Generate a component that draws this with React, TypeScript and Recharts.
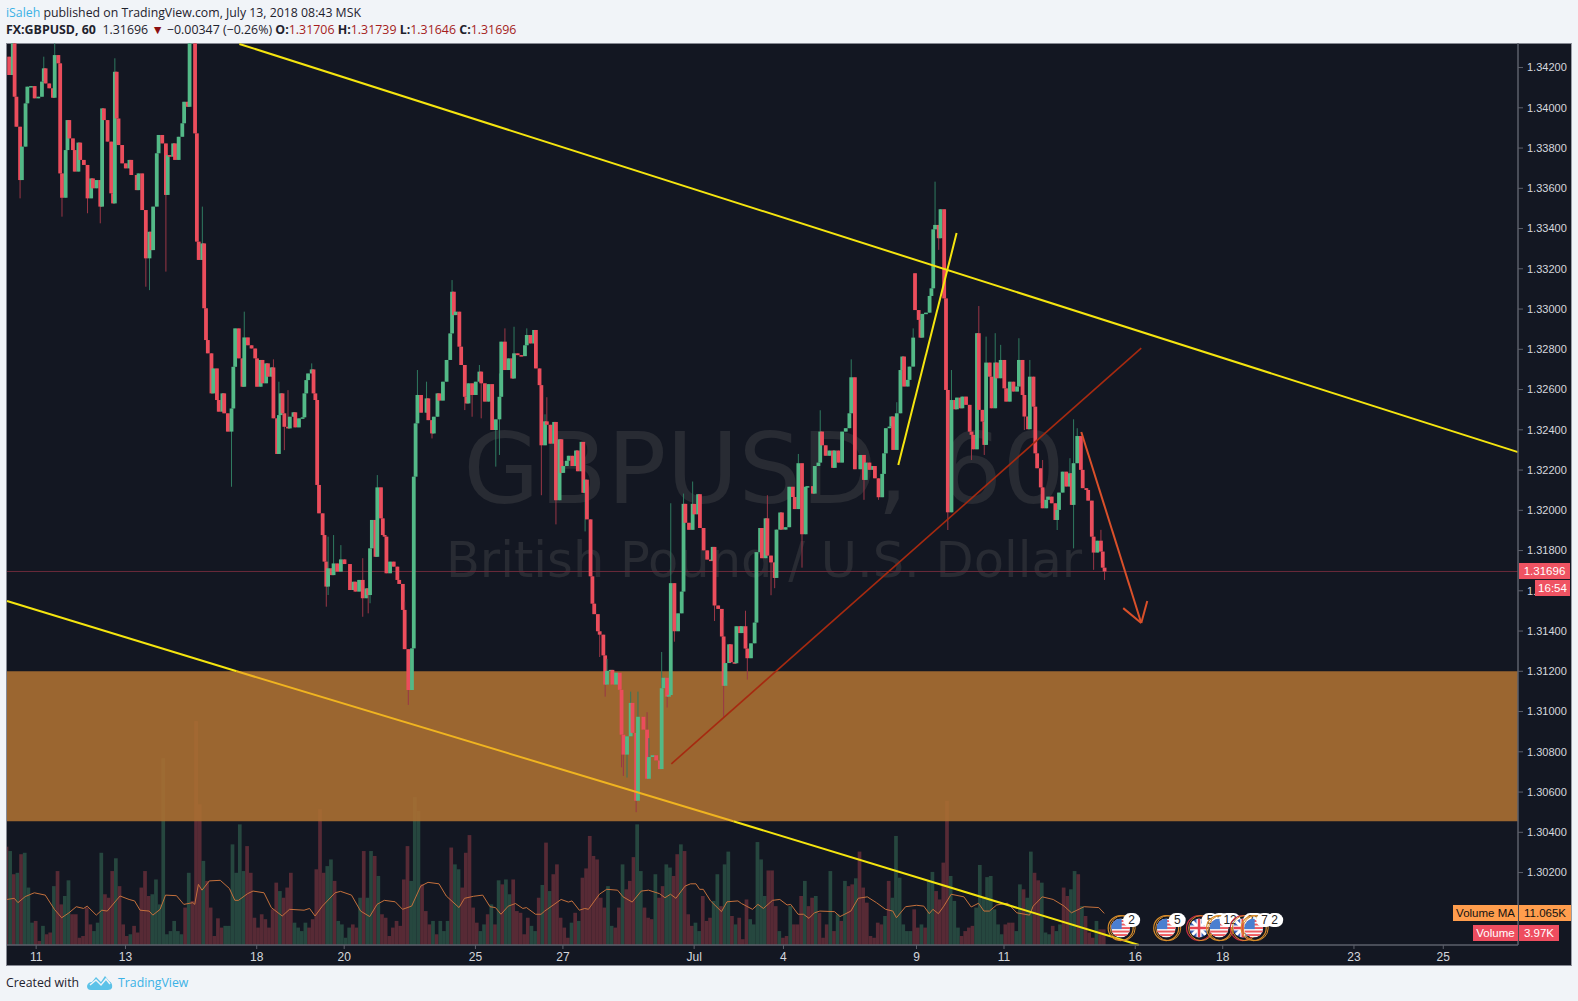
import React from "react";
import { ComposedChart, XAxis, YAxis, Bar, Line, ReferenceArea, ReferenceLine, ReferenceDot } from "recharts";

// ---- price candles: hour-bar number and close (the open is the previous close unless listed)
const candleBars = [
1,3,4,5,7,8,10,11,13,15,17,19,20,21,23,25,26,28,29,30,32,33,34,36,37,39,40,42,44,46,47,49,51,52,53,55,57,58,59,60,61,63,65,67,68,71,72,74,76,78,79,80,82,83,85,87,88,89,91,92,94,96,97,99,100,103,104,105,107,108,109,
110,112,113,115,116,118,119,121,123,124,125,127,129,130,132,134,136,137,139,140,142,143,145,146,148,149,150,151,152,154,155,157,158,160,162,163,164,165,167,168,169,170,171,173,174,175,176,178,179,181,183,185,188,190,191,193,195,197,198,199,200,202,203,205,206,207,208,210,212,214,215,217,218,220,222,223,224,225,227,230,231,233,234,236,237,239,241,243,244,245,246,248,249,251,252,253,255,257,259,260,262,264,266,268,270,271,273,275,277,278,280,282,284,285,287,289,290,292,
293,295,296,298,300,301,303,304,305,307,308,310,312,313,315,316,317,318,320,321,322,324,325,327,328,329,331,332,334,336,337,338,340,342,343,345,346,349,351,352,354,356,358,359,360,362,363,364,366,368,370,371,372,374,376,377,379,380,382,384,386,387,388,390,392,393,394,396,397,399,400,402,403,405,406,408,410,411,413,414,416,417,419,421,422,424,425,427,429,431,432,434,436,438,439,442,443,445,446,447,449,451,453,454,456,
458,460,462,463,465,468,470,471,473,475,476,478,480,481,482,484,485,486,488,490,491,492,494,495,497,498,500,501,502,504,506,507,508,509,511,512,514,515,516,518,520,521,523,524,526,528,529,530,532,533,535,536,537,539,540,542,543,545,547,548,550,552,554,555,557,558,560,561,563,564,565,567,568,570,571,573,575,576,577,579,581,583,584,585,587,589,590,592,593,595,596,598,600,601,602,
];
const candleCloses = [
1.34163,1.3432,1.34055,1.33906,1.33641,1.33807,1.34022,1.34105,1.34108,1.34047,1.34055,1.3413,1.34196,1.34121,1.34097,1.3405,1.34262,1.34221,1.33674,1.33553,1.3379,1.33939,1.33848,1.3379,1.33683,1.33827,1.33741,1.33716,1.3355,1.33649,1.336,1.33641,1.33509,1.33997,1.33939,1.33832,1.33575,1.33525,1.34179,1.33947,1.33815,1.33724,1.33699,1.33741,1.33666,1.33591,1.33674,1.33492,1.33252,1.33384,1.33293,1.33509,1.33774,1.33865,1.33823,1.33567,1.33765,1.33757,1.33823,1.33741,1.33856,1.33923,1.3403,1.34005,1.3432,1.33873,1.33335,1.33244,1.33326,1.33004,1.32846,
1.3278,1.32581,1.32705,1.32548,1.3249,1.32581,1.32482,1.32391,1.32506,1.32713,1.32904,1.32755,1.32614,1.32859,1.3282,1.32804,1.32755,1.32614,1.32747,1.32631,1.3273,1.32664,1.3271,1.32457,1.3228,1.32473,1.32581,1.32482,1.32415,1.32407,1.32465,1.32487,1.32412,1.32457,1.32462,1.32581,1.32647,1.3268,1.327,1.32581,1.32548,1.32126,1.31985,1.31877,1.31745,1.31621,1.31712,1.31678,1.31736,1.31695,1.31756,1.31733,1.31604,1.31645,1.31596,1.31654,1.31563,1.31612,1.31579,1.31811,1.31952,1.31769,1.32114,1.3196,1.31877,1.31869,1.31687,1.31745,1.3172,1.31654,1.31634,1.31505,1.3131,1.31107,1.31314,1.32167,1.32432,1.32573,1.32485,1.32556,1.32448,1.32382,1.32465,1.32581,1.32545,1.32639,1.32747,1.32879,1.33086,1.3297,1.32987,1.32813,1.32722,1.32564,1.32531,1.32631,1.32573,1.32639,1.32689,1.32631,1.3254,1.32627,1.32399,1.32452,1.32564,1.32838,1.32697,1.32755,1.32655,1.3278,1.32771,1.32766,1.3282,1.32871,1.32829,1.32896,1.32705,1.32622,
1.32323,1.32442,1.32425,1.32331,1.32439,1.3205,1.32353,1.32186,1.3222,1.32246,1.32271,1.3222,1.32297,1.32194,1.3234,1.32087,1.32152,1.31955,1.31672,1.31536,1.31484,1.31399,1.31382,1.31279,1.31134,1.31202,1.31207,1.31134,1.31193,1.31108,1.30885,1.30786,1.30877,1.31043,1.30894,1.30557,1.30974,1.3091,1.30666,1.30774,1.30783,1.30757,1.30714,1.31116,1.31168,1.31074,1.31082,1.31638,1.31399,1.31488,1.31596,1.32032,1.31938,1.31903,1.32032,1.3198,1.3208,1.31912,1.31801,1.31755,1.3175,1.31818,1.31527,1.3151,1.31373,1.31128,1.31241,1.31334,1.31245,1.3124,1.31424,1.3139,1.31424,1.31313,1.31265,1.31339,1.31442,1.31792,1.31912,1.31762,1.3196,1.31775,1.31741,1.31664,1.31904,1.31989,1.31904,1.31916,1.32117,1.32066,1.32006,1.32234,1.31881,1.32117,1.3212,1.32083,1.3222,1.32237,1.32391,1.32323,1.32271,1.32297,1.32211,1.32297,1.32237,
1.32391,1.32408,1.32482,1.32661,1.32204,1.32275,1.32151,1.32237,1.32201,1.3222,1.32159,1.32065,1.32181,1.32283,1.32408,1.32416,1.32466,1.323,1.32482,1.32697,1.32764,1.32615,1.32648,1.32714,1.32858,1.32995,1.32946,1.32858,1.32976,1.32982,1.33065,1.33103,1.33396,1.33418,1.33352,1.33496,1.33053,1.32598,1.3199,1.32548,1.32502,1.3256,1.32507,1.32565,1.32524,1.32391,1.32375,1.32303,1.3288,1.32499,1.32441,1.32325,1.32734,1.32664,1.32507,1.32734,1.32656,1.32747,1.32606,1.3254,1.32639,1.3259,1.32615,1.32747,1.32573,1.32466,1.32403,1.32664,1.32515,1.32283,1.32209,1.32114,1.3201,1.32052,1.32068,1.32035,1.31952,1.32002,1.32088,1.32192,1.32118,1.32184,1.32027,1.32234,1.32369,1.32201,1.3211,1.32101,1.32048,1.31869,1.3179,1.31849,1.31795,1.31715,1.31696,
];
const listedOpenBars = [1, 498];
const listedOpens = [1.34254, 1.33178];

// ---- notable wicks (0 = no wick on that side)
const wickBars = [7,20,26,30,44,51,59,76,78,87,107,123,130,146,149,152,154,167,175,176,179,183,195,198,199,203,218,220,225,230,233,244,251,255,259,260,268,270,273,278,285,293,295,296,301,317,325,328,329,337,338,340,342,345,346,351,352,359,362,364,366,371,376,388,393,405,406,417,419,421,434,436,446,463,470,478,488,497,509,511,516,518,529,533,536,537,542,545,555,558,561,568,576,583,585,587,596,600,602];
const wickHighs = [0,1.34254,1.3432,0,0,0,1.34246,0,0,0,1.33509,0,1.32987,1.3275,1.32639,0,1.32597,1.3273,0,1.31869,1.31877,1.31827,1.31762,0,0,1.32175,1.31546,0,1.32697,1.32639,0,1.33144,0,0,1.32722,0,0,1.3268,1.32904,1.32912,1.32904,0,1.32477,1.32562,0,0,0,0,1.31262,0,0,0,1.31099,0,1.31099,1.30997,1.30868,1.31296,0,1.32035,0,1.32083,1.32143,0,1.31467,1.31501,0,1.32075,0,0,1.3228,0,1.32497,1.3275,0,0,1.32537,1.32904,1.33633,0,0,1.32697,0,1.33015,0,1.32863,1.3288,1.32822,1.32855,0,1.32747,1.3225,0,1.32259,1.32452,1.32408,0,1.31903,0];
const wickLows = [1.3355,0,0,1.33459,1.33476,1.33426,0,1.33111,1.33094,1.33186,0,1.32117,0,0,0,1.32299,0,0,1.31521,1.31579,0,0,1.31471,1.31488,1.31538,0,0,1.31033,0,0,1.32357,0,1.32498,1.32465,0,1.32457,1.32217,1.32275,0,0,0,1.32075,0,0,1.3193,1.31895,1.31271,1.31074,0,1.30723,1.3068,1.30672,0,1.305,0,0,0,0,1.3102,0,1.31347,0,0,1.3145,1.30971,0,1.31159,0,1.31578,1.31613,0,1.31715,0,0,1.32052,1.32052,0,0,0,1.33294,1.31902,0,1.3225,0,1.32275,0,0,0,0,1.32399,0,0,1.31902,0,1.31811,0,1.31704,0,1.31654];

// ---- volume in thousands, one value every two hours: positive = up bar, negative = down bar
const volumeFirst = [-33.9,32.4,-24.4,24.9,-31.3,31.8,19.8,7.7,-8.3,-1.4,6.6,-3.7,-4.3,20.3,-25.5,-14,16.9,22.3,-10.6,-10.6,-2.5,-3.1,-12.9,-7.1,4.8,7.7,31.8,-17.5,-16.3,-25.5,29.9,-20.3,-7.1,-3.1,3.7,-6.6,-4.3,-19.8,-25.5,-16.9,17.5,22.6,14,64.4,3.7,4.8,8.3,4.8,3.7,-12.9,24.9,-15.2,-77.2,-48.5,29,-22.1,-12.9,-3.1,-9.2,-6,6.6,6.6,34.7,24.9,41.6,25.5,-34.1,-24.9,-9.4,-6,-10.6,-8.9,-6,-12.3,-21.5,18.6,-16.3,-19.8,-24.9,7.7,6,4.8,7.7,-6,-8.9,-26.1,-46.8,-24.9,27.2,29.5,-22.1,8.3,7.1,2.5,6,-7.1,-6,16.3,-32.4,16.3,32.4,-30.7,23.8,-10.6,-9.4,-3.1,-6,-8.3,-6.6,-22.6,-34.1,22.1,51,46.2,-20.9,-11.7,-7.1,8.3,-3.7,8.3,4.8,8.3];
const volumeMiddle = [-33.6,27.8,26.1,-19.8,-31.8,-37.9,-12.9,-7.7,4.8,7.1,-10.6,14,-7.1,22.3,-20.9,22.6,17.5,-22.6,-11.7,-11.1,-3.7,-9.4,6.6,4.8,-16.3,20.7,-35.3,18.6,-24.4,-27.8,-9.4,-6,-2.5,7.7,-11.1,8.3,-23.2,-26.4,-37.6,-30.7,-29.5,-16.3,-12.9,20.3,6.6,-6,-12.9,27.8,-19.2,-22.1,-30.3,41.6,25.5,-12.9,-9.4,-8.9,24.4,-16.3,-20.3,27.8,26.7,-23.8,-31.3,34.7,-32.4,-10.6,-6.6,7.7,4.8,-16.9,-8.3,-9.4,15.2,24.4,-13.4,27.8,32.2,-10,7.1,-9.4,-2,-15.7,8.9,7.1,35.5,29.5,16.9,-25.7,-25.7,-13.4,4.8];
const volumeLast = [-2.5,-3.1,13.4,-7.1,-7.1,-16.9,22.1,-13.4,-16.3,16.9,-11.1,-2.5,-7.1,25.5,-4.8,10.6,-8.3,22.1,-20.3,-20.9,23,-32.2,-19.8,-14.6,-3.1,-2.5,-7.7,-7.1,10,-22.1,16.3,37.6,23.2,7.1,4.8,4.8,-12.3,-6,7.1,-6,22.1,25.2,-18.6,-15.7,-28.4,-49.7,23.8,15.2,6,-3.1,-4.8,-6,-6.6,12.9,27.6,16.3,23.4,23.8,12.3,7.1,3.7,-7.1,-7.7,-7.7,4.8,20.9,-19.2,16.3,32.2,-24.9,-22.3,21.5,4.3,3.7,-6.6,4.8,7.1,-19.8,-16.9,19.2,25.5,-24.4,13.4,-10,-4.3,-2.5,8.3,-5.4,-5.4];

// ---- volume moving average
const maBars = [0,4,6,10,15,21,26,30,34,38,42,44,49,52,55,62,67,70,73,78,80,84,87,93,97,102,103,105,107,111,117,122,125,127,132,135,141,145,151,155,163,166,169,173,180,183,189,194,199,203,207,213,217,222,227,231,237,241,248,251,256,261,265,268,271,275,279,283,285,290,293,295,304,308,310,314,317,319,325,329,335,338,343,348,352,358,361,364,367,372,375,378,380,382,386,392,395,401,403,409,412,415,420,424,428,430,434,437,440,443,446,454,457,463,467,472,477,482,486,488,493,499,503,506,508,511,514,518,525,529,533,536,539,543,549,554,561,563,568,574,580,584,591,599,602];
const maValues = [15.7,16.1,14.6,16.7,18,17.2,12.3,9.4,11.1,13.2,12.6,13.4,10.3,12,11.7,16.9,15.7,15.2,12,11.7,10.3,12.3,17.2,17,14,14.6,14,20.9,18.9,22.1,22.3,19.5,15.4,15.4,17.7,18.6,18,12.9,10,12.3,12,12.6,10,13.4,18,18.5,17.2,11.7,9.8,14,15.4,14.9,12.3,13.4,20.3,21.6,21.1,16.9,12.9,16.1,16.8,17.2,13.2,12.9,10.6,13.4,14.3,12.6,12.9,10.6,10.6,11.7,15.7,14.8,15.2,12,12.6,12.3,17.5,19.2,18.9,16.6,14.8,18.6,18.9,17.7,16.3,17.5,16.1,20.3,21.1,21.1,19.2,19.2,15.2,11.5,14.9,15.2,14.3,12.3,14,12.6,15.4,15.7,13.8,14,10.6,10.6,9.2,11.1,11.7,11.5,9.8,11.7,16.1,16.6,14.6,12.3,11.7,9.4,13.2,13.7,13.4,10.8,12.3,10.8,13.4,17.5,16.6,13.1,14.4,11.7,11.7,13.8,14.4,11.1,10.3,13.4,16.6,15.7,13.4,11.1,13.2,12.9,10.9];

// ---- axes
const priceTicks = [1.302,1.304,1.306,1.308,1.31,1.312,1.314,1.316,1.318,1.32,1.322,1.324,1.326,1.328,1.33,1.332,1.334,1.336,1.338,1.34,1.342];
const timeTicks = [16,65,137,185,257,305,377,426,499,547,619,667,739,788];
const timeLabels = ["11","13","18","20","25","27","Jul","4","9","11","16","18","23","25"];
const lastPrice = 1.31696;
const zoneTop = 1.312;
const zoneBottom = 1.30455;

// ---- drawings: [bar, price, bar, price]
const yellowLines = [
  [127.5,1.34317,829,1.32289],
  [0,1.31549,126,1.312],
  [398.5,1.30455,621,1.2984],
  [489,1.32225,521,1.33378],
];
const amberLines = [[126,1.312,398.5,1.30455]];
const redLines = [[364.5,1.3074,622.3,1.32806]];
const arrowLines = [
  [589.4,1.32389,622.3,1.3144],
  [612.4,1.31514,622.3,1.3144],
  [625.6,1.31549,622.3,1.3144],
];

// ---- calendar events along the bottom
const eventBars = [611,636,654,665,678,684];
const eventPrice = 1.29924;
const eventKinds = ["us","us","uk","us","uk","us"];
const eventCounts = [["2"],["5"],["5","2"],["12"],["21"],["7","2"]];

const UP = "#53b987";
const DOWN = "#eb4d5c";

const wickByBar = new Map(wickBars.map((b, i) => [b, [wickHighs[i], wickLows[i]]]));
const openByBar = new Map(listedOpenBars.map((b, i) => [b, listedOpens[i]]));
const rowsByBar = new Map<number, any>();
const rowAt = (b: number) => {
  if (!rowsByBar.has(b)) rowsByBar.set(b, { bar: b });
  return rowsByBar.get(b);
};
candleBars.forEach((b, i) => {
  const close = candleCloses[i];
  const open = openByBar.has(b) ? openByBar.get(b)! : candleCloses[i - 1];
  const [wh, wl] = wickByBar.get(b) || [0, 0];
  const high = Math.max(open, close, wh || 0);
  const low = Math.min(open, close, wl || 9);
  Object.assign(rowAt(b), { open, close, range: [low, high] });
});
[[volumeFirst, 0], [volumeMiddle, 244], [volumeLast, 426]].forEach(([list, start]: any) => {
  list.forEach((v: number, i: number) => {
    const r = rowAt(start + i * 2);
    r.volume = Math.abs(v);
    r.volumeUp = v > 0;
  });
});
maBars.forEach((b, i) => { rowAt(b).ma = maValues[i]; });
const chartData = Array.from(rowsByBar.values()).sort((a, b) => a.bar - b.bar);

function CandleShape(props: any) {
  const { x, width, y, height, payload } = props;
  if (!payload || payload.range == null || !Number.isFinite(y)) return null;
  const cx = x + width / 2;
  const [low, high] = payload.range;
  const top = Math.min(y, y + height);
  const h = Math.abs(height);
  const perUnit = high > low ? h / (high - low) : 0;
  const bodyTop = top + (high - Math.max(payload.open, payload.close)) * perUnit;
  const bodyH = Math.max(1.5, Math.abs(payload.open - payload.close) * perUnit);
  const up = payload.close >= payload.open;
  return (
    <g>
      <line x1={cx} x2={cx} y1={top} y2={top + h} stroke={up ? "#2f7a60" : "#9a3646"} strokeWidth={1} />
      <rect x={cx - 1.9} y={bodyTop} width={3.8} height={bodyH} fill={up ? UP : DOWN} />
    </g>
  );
}

function VolumeShape(props: any) {
  const { x, width, y, height, payload } = props;
  if (!payload || payload.volume == null || !Number.isFinite(y)) return null;
  const cx = x + width / 2;
  return <rect x={cx - 1.85} y={y} width={3.7} height={height} fill={payload.volumeUp ? "#26473f" : "#572a35"} />;
}

function FlagShape(props: any) {
  const { cx, cy, kind, counts, id } = props;
  const r = 9.5;
  const stripes = [-8, -4.5, -1, 2.5, 6];
  return (
    <g>
      <circle cx={cx} cy={cy} r={r + 3} fill="none" stroke={kind === "uk" ? "#c92c41" : "#d98e2b"} strokeWidth={1.2} />
      <circle cx={cx + 2} cy={cy} r={r + 3} fill="none" stroke="#d98e2b" strokeWidth={1} />
      <clipPath id={id}><circle cx={cx} cy={cy} r={r} /></clipPath>
      <g clipPath={`url(#${id})`}>
        {kind === "us" ? (
          <>
            <rect x={cx - r} y={cy - r} width={r * 2} height={r * 2} fill="#f7f7f7" />
            {stripes.map((s) => <rect key={s} x={cx - r} y={cy + s} width={r * 2} height={1.9} fill="#ee5a5f" />)}
            <rect x={cx - r} y={cy - r} width={r + 1} height={r + 1} fill="#4a7fd0" />
          </>
        ) : (
          <>
            <rect x={cx - r} y={cy - r} width={r * 2} height={r * 2} fill="#3a62b5" />
            <line x1={cx - r} y1={cy - r} x2={cx + r} y2={cy + r} stroke="#fff" strokeWidth={3} />
            <line x1={cx - r} y1={cy + r} x2={cx + r} y2={cy - r} stroke="#fff" strokeWidth={3} />
            <line x1={cx - r} y1={cy} x2={cx + r} y2={cy} stroke="#fff" strokeWidth={5} />
            <line x1={cx} y1={cy - r} x2={cx} y2={cy + r} stroke="#fff" strokeWidth={5} />
            <line x1={cx - r} y1={cy} x2={cx + r} y2={cy} stroke="#e5404f" strokeWidth={2.5} />
            <line x1={cx} y1={cy - r} x2={cx} y2={cy + r} stroke="#e5404f" strokeWidth={2.5} />
          </>
        )}
      </g>
      {counts.map((t: string, i: number) => {
        const bx = cx + 11 + i * 10;
        const w = t.length > 1 ? 21 : 17;
        return (
          <g key={i}>
            <rect x={bx - w / 2} y={cy - 15} width={w} height={14} rx={7} fill="#fff" />
            <text x={bx} y={cy - 4} textAnchor="middle" fontSize={12} fontFamily="Liberation Sans" fill="#222">{t}</text>
          </g>
        );
      })}
    </g>
  );
}

const segment = (s: number[]) => [{ x: s[0], y: s[1] }, { x: s[2], y: s[3] }];
const SANS = '"Open Sans", "Noto Sans", sans-serif';
const box = (left: number, top: number, width: number, height: number, bg: string, color: string, text: string) => (
  <div style={{ position: "absolute", left, top, width, height, background: bg, color, font: '11.5px "Liberation Sans"', lineHeight: `${height}px`, textAlign: "center", whiteSpace: "nowrap" }}>{text}</div>
);

export default function App() {
  return (
    <div style={{ position: "absolute", left: 0, top: 0, width: 1578, height: 1001, background: "#f1f4f8", overflow: "hidden" }}>
      <div style={{ position: "absolute", left: 6, top: 4, font: `12.3px ${SANS}`, color: "#1e222d", whiteSpace: "nowrap" }}>
        <span style={{ color: "#3bb2e6" }}>iSaleh</span> published on TradingView.com, July 13, 2018 08:43 MSK
      </div>
      <div style={{ position: "absolute", left: 6, top: 21, font: `12.4px ${SANS}`, color: "#1e222d", whiteSpace: "nowrap" }}>
        <b>FX:GBPUSD, 60</b>&nbsp; 1.31696 <span style={{ color: "#8b0f12" }}>▼</span> −0.00347 (−0.26%) <b>O:</b><span style={{ color: "#a51c1c" }}>1.31706</span> <b>H:</b><span style={{ color: "#a51c1c" }}>1.31739</span> <b>L:</b><span style={{ color: "#a51c1c" }}>1.31646</span> <b>C:</b><span style={{ color: "#a51c1c" }}>1.31696</span>
      </div>

      <div style={{ position: "absolute", left: 6, top: 43, width: 1564, height: 921, background: "#131722", border: "1px solid #868993", borderRight: "1px solid #9a9da6", boxSizing: "content-box" }} />
      <div style={{ position: "absolute", left: 0, width: 1528, top: 414, textAlign: "center", font: '98.5px "DejaVu Sans"', color: "#282b33", lineHeight: "110px", whiteSpace: "nowrap" }}>GBPUSD, 60</div>
      <div style={{ position: "absolute", left: 0, width: 1528, top: 532, textAlign: "center", font: '49.5px "DejaVu Sans"', color: "#282b33", lineHeight: "56px", whiteSpace: "nowrap" }}>British Pound / U.S. Dollar</div>

      <div style={{ position: "absolute", left: 0, top: 0 }}>
        <ComposedChart width={1578} height={1001} data={chartData} margin={{ top: 43, left: 7, right: 8, bottom: 36 }}>
          <XAxis dataKey="bar" type="number" domain={[0, 829]} ticks={timeTicks} interval={0} height={20} allowDataOverflow
            tickFormatter={(v: number) => timeLabels[timeTicks.indexOf(v)]}
            tick={{ fill: "#d6d8de", fontSize: 12, fontFamily: "Liberation Sans" }} tickSize={4} tickMargin={3}
            axisLine={{ stroke: "#5d606b", strokeWidth: 1.5 }} tickLine={{ stroke: "#5d606b" }} />
          <YAxis yAxisId="price" orientation="right" width={52} domain={[1.2984, 1.34322]} allowDataOverflow ticks={priceTicks} interval={0}
            tickFormatter={(v: number) => v.toFixed(5)}
            tick={{ fill: "#d6d8de", fontSize: 11, fontFamily: "Liberation Sans", textAnchor: "start" }} tickSize={5} tickMargin={4}
            axisLine={{ stroke: "#5d606b", strokeWidth: 1.5 }} tickLine={{ stroke: "#5d606b" }} />
          <YAxis yAxisId="volume" hide domain={[0, 311]} allowDataOverflow />

          <Bar yAxisId="volume" dataKey="volume" shape={VolumeShape} barSize={3} isAnimationActive={false} zIndex={50} />
          <Line yAxisId="volume" dataKey="ma" stroke="#c4703c" strokeWidth={1} dot={false} connectNulls isAnimationActive={false} zIndex={60} />
          <ReferenceArea yAxisId="price" x1={0} x2={829} y1={zoneBottom} y2={zoneTop} fill="rgb(171,111,50)" fillOpacity={0.9} stroke="none" zIndex={80} />
          <ReferenceLine yAxisId="price" y={lastPrice} stroke="#6a2b3a" strokeWidth={1} zIndex={90} />
          <Bar yAxisId="price" dataKey="range" shape={CandleShape} barSize={3} isAnimationActive={false} zIndex={300} />
          {yellowLines.map((s, i) => <ReferenceLine key={`y${i}`} yAxisId="price" segment={segment(s)} stroke="#f5e50f" strokeWidth={2} zIndex={400} />)}
          {amberLines.map((s, i) => <ReferenceLine key={`a${i}`} yAxisId="price" segment={segment(s)} stroke="#f0b420" strokeWidth={2} zIndex={400} />)}
          {redLines.map((s, i) => <ReferenceLine key={`r${i}`} yAxisId="price" segment={segment(s)} stroke="#a62a10" strokeWidth={1.6} zIndex={400} />)}
          {arrowLines.map((s, i) => <ReferenceLine key={`o${i}`} yAxisId="price" segment={segment(s)} stroke="#d9502a" strokeWidth={2} zIndex={400} />)}
          {eventBars.map((b, i) => (
            <ReferenceDot key={`e${i}`} yAxisId="price" x={b} y={eventPrice} r={10} zIndex={500}
              shape={(p: any) => <FlagShape {...p} kind={eventKinds[i]} counts={eventCounts[i]} id={`flag${i}`} />} />
          ))}
        </ComposedChart>
      </div>

      {box(1519, 563, 51, 16, "#ef5362", "#fff", "1.31696")}
      {box(1535, 580, 35, 16, "#ef5362", "#fff", "16:54")}
      {box(1453, 905, 65, 16, "#ff9d4d", "#111", "Volume MA")}
      {box(1519, 905, 52, 16, "#ff9d4d", "#111", "11.065K")}
      {box(1473, 925, 45, 16, "#ee4d5f", "#fff", "Volume")}
      {box(1519, 925, 40, 16, "#ee4d5f", "#fff", "3.97K")}

      <div style={{ position: "absolute", left: 6, top: 974, font: `12.3px ${SANS}`, color: "#1e222d", whiteSpace: "nowrap" }}>Created with</div>
      <svg style={{ position: "absolute", left: 87, top: 974 }} width={26} height={16} viewBox="0 0 26 16">
        <path d="M0 12 Q1 8 5 8 L9 3 L14 8 L18 2 L22 7 Q26 9 25 14 Q24 16 21 16 L4 16 Q0 16 0 12Z" fill="#5cc2e8" />
        <path d="M3 11 L9 6 L14 11 L19 5 L23 10" fill="none" stroke="#f1f4f8" strokeWidth={1.5} />
      </svg>
      <div style={{ position: "absolute", left: 118, top: 974, font: `12.3px ${SANS}`, color: "#3bb2e6", whiteSpace: "nowrap" }}>TradingView</div>
    </div>
  );
}
